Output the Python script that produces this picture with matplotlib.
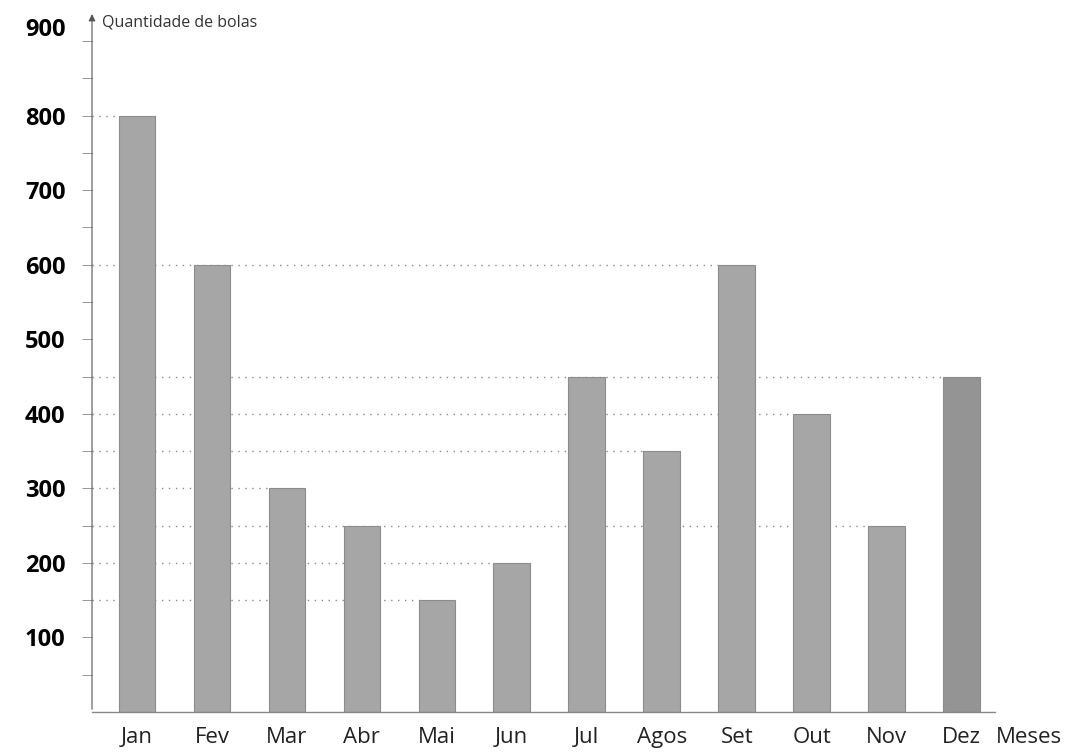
import matplotlib.pyplot as plt
import matplotlib.transforms as mtransforms
import numpy as np

# data
meses = ["Jan", "Fev", "Mar", "Abr", "Mai", "Jun", "Jul", "Agos", "Set", "Out", "Nov", "Dez"]
bolas = [800, 600, 300, 250, 150, 200, 450, 350, 600, 400, 250, 450]
y_ticks = [100, 200, 300, 400, 500, 600, 700, 800, 900]

plt.rcParams['font.family'] = ['Open Sans', 'DejaVu Sans']

fig = plt.figure(figsize=(10.85, 7.53), dpi=100)
ax = fig.add_axes([0.0848, 0.0544, 0.843, 0.891])

x = np.arange(len(meses))
bar_w = 0.49
bar_colors = ["#a6a6a6"] * (len(meses) - 1) + ["#949494"]
ax.bar(x, bolas, width=bar_w, color=bar_colors, edgecolor="#8c8c8c", linewidth=0.8, zorder=3)

x0 = -0.6
ax.set_xlim(x0, 11.6)
ax.set_ylim(0, 900)

# dotted guide lines from the axis to the last bar with each value
for v in sorted(set(bolas)):
    last = max(i for i, b in enumerate(bolas) if b == v)
    ax.hlines(v, x0, last - bar_w / 2, colors="#8a8a8a", linestyles=(0, (1, 4)),
              linewidth=1.0, zorder=2)

# axes drawn by hand: y axis with arrow, plain base line
for s in ax.spines.values():
    s.set_visible(False)
ax.annotate("", xy=(x0, 940), xytext=(x0, 0), xycoords="data",
            arrowprops=dict(arrowstyle="-|>", color="#555555", lw=0.8,
                            mutation_scale=10), annotation_clip=False)
ax.plot([x0, 11.45], [0, 0], color="#888888", lw=1.0, clip_on=False, zorder=4)

ax.set_yticks(y_ticks)
ax.set_yticklabels([str(t) for t in y_ticks], fontsize=17, fontweight="bold")
ax.set_yticks(np.arange(50, 900, 100), minor=True)
ax.tick_params(axis="y", which="both", direction="out", length=7, width=0.7,
               color="#999999", pad=12)
# the top label sits a little above its tick in the original
top_lab = ax.get_yticklabels()[-1]
top_lab.set_transform(top_lab.get_transform() +
                      mtransforms.ScaledTranslation(0, 14 / 100, fig.dpi_scale_trans))

ax.set_xticks(x)
ax.set_xticklabels(meses, fontsize=16, color="#222222")
ax.tick_params(axis="x", length=0, pad=11)

ax.text(x0 + 0.13, 925, "Quantidade de bolas", fontsize=11.5, color="#333333",
        ha="left", va="center", clip_on=False)
ax.text(11.9, -20, "Meses", fontsize=16, color="#222222", ha="center", va="top",
        clip_on=False)

fig.savefig("out.png", dpi=100)
